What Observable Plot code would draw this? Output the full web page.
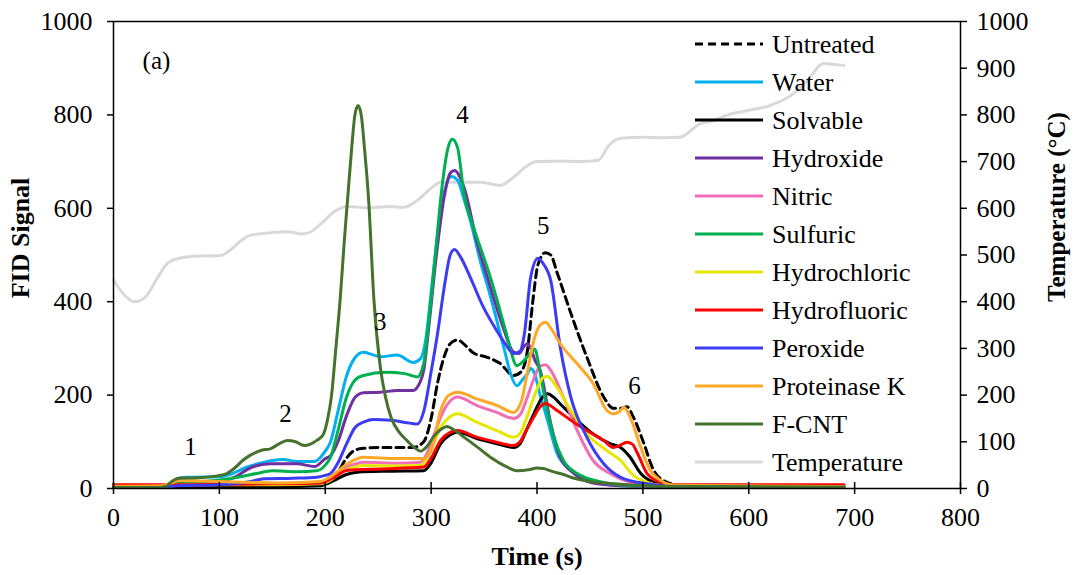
<!DOCTYPE html>
<html><head><meta charset="utf-8">
<script src="https://cdn.jsdelivr.net/npm/d3@7"></script>
<script src="https://cdn.jsdelivr.net/npm/@observablehq/plot@0.6"></script>
<style>
body{margin:0;background:#fff;}
#wrap{width:1074px;height:575px;}
</style></head><body><div id="wrap"></div>
<script>
// ---- data: [time (s), FID signal] ----
const untreated = [[0,3],[50,3],[100,4],[150,5],[195,8],[205,15],[212,35],[220,65],[228,82],[236,86],[252,88],[283,88],[293,100],[300,150],[306,225],[312,280],[318,310],[325,318],[333,305],[340,290],[353,281],[365,268],[378,242],[385,250],[391,296],[396,400],[401,480],[408,505],[413,500],[419,462],[432,375],[447,282],[463,196],[472,172],[480,172],[485,175],[491,153],[501,96],[510,40],[523,13],[540,5],[690,4]];
const water = [[0,5],[40,5],[55,12],[62,22],[70,24],[100,25],[110,30],[125,45],[140,55],[150,60],[160,62],[173,58],[190,58],[200,80],[205,100],[212,165],[220,240],[228,280],[236,292],[252,282],[268,286],[283,270],[290,278],[295,320],[300,420],[307,560],[313,640],[319,668],[325,660],[331,620],[337,574],[347,482],[355,420],[362,360],[370,290],[375,246],[381,220],[386,232],[391,246],[394,257],[397,250],[403,200],[410,146],[419,75],[432,39],[441,24],[460,10],[480,6],[690,4]];
const solvable = [[0,2],[50,2],[100,3],[150,4],[195,6],[208,17],[220,30],[230,35],[260,37],[293,38],[300,55],[309,96],[318,115],[325,121],[343,107],[362,96],[378,88],[384,96],[390,125],[397,160],[405,195],[410,203],[416,195],[422,181],[438,146],[453,117],[469,96],[479,88],[488,67],[498,32],[510,13],[525,5],[690,3]];
const hydroxide = [[0,3],[50,4],[60,12],[100,15],[115,25],[130,45],[148,53],[173,53],[190,47],[200,64],[205,70],[212,100],[220,155],[228,195],[236,205],[252,206],[268,210],[283,210],[289,225],[293,253],[298,350],[305,500],[312,620],[318,675],[322,681],[331,645],[343,531],[356,431],[368,345],[378,292],[383,289],[388,305],[391,310],[394,300],[398,275],[403,253],[413,139],[422,67],[435,32],[457,10],[490,5],[690,4]];
const nitric = [[0,5],[50,5],[60,8],[100,10],[150,10],[195,12],[205,22],[215,40],[228,52],[236,56],[268,54],[290,56],[295,70],[302,110],[309,153],[317,185],[325,196],[343,178],[362,163],[378,150],[384,158],[390,190],[397,235],[403,262],[408,265],[413,253],[425,195],[438,124],[453,60],[469,32],[488,13],[510,6],[690,4]];
const sulfuric = [[0,4],[50,5],[60,10],[100,18],[120,25],[135,32],[150,38],[173,36],[192,38],[200,50],[205,67],[212,124],[220,195],[228,232],[236,242],[258,249],[275,246],[287,239],[293,268],[298,360],[304,500],[310,640],[316,730],[320,748],[325,730],[331,631],[340,560],[356,452],[364,390],[372,324],[381,263],[388,275],[394,290],[398,298],[402,260],[406,210],[416,110],[425,60],[438,32],[463,13],[490,6],[690,4]];
const hydrochloric = [[0,4],[50,4],[60,7],[100,8],[150,8],[195,10],[205,18],[215,35],[228,46],[236,49],[268,48],[290,49],[296,65],[303,100],[309,131],[317,152],[325,160],[343,142],[362,124],[378,110],[384,118],[390,150],[397,195],[406,238],[410,240],[416,226],[432,167],[447,117],[466,81],[479,60],[491,28],[504,13],[520,6],[690,4]];
const hydrofluoric = [[0,8],[40,8],[60,8],[100,9],[150,10],[195,12],[205,20],[221,39],[252,42],[293,46],[300,65],[309,103],[318,120],[325,124],[343,110],[362,99],[378,92],[384,100],[390,125],[397,153],[403,175],[408,182],[419,167],[432,146],[447,124],[463,103],[472,88],[478,92],[485,99],[490,95],[495,75],[504,32],[517,13],[530,8],[690,8]];
const peroxide = [[0,3],[50,3],[60,6],[100,8],[130,15],[142,21],[170,22],[192,24],[200,28],[205,32],[212,55],[220,95],[228,130],[236,142],[245,148],[262,146],[280,140],[287,138],[293,165],[300,250],[306,331],[313,440],[318,500],[322,512],[328,495],[337,452],[349,390],[362,338],[370,310],[378,289],[384,294],[388,330],[394,452],[401,493],[406,481],[413,445],[422,302],[432,195],[447,110],[463,53],[479,24],[504,10],[530,5],[690,4]];
const proteinaseK = [[0,5],[45,6],[55,12],[62,17],[80,16],[100,15],[130,13],[160,12],[195,15],[205,25],[221,53],[236,67],[268,64],[293,64],[300,81],[309,167],[317,200],[325,206],[343,192],[362,178],[378,163],[385,185],[391,250],[397,317],[403,350],[408,356],[414,340],[422,310],[438,267],[453,225],[466,167],[472,160],[478,165],[482,174],[488,153],[498,88],[507,39],[517,17],[530,7],[690,4]];
const fcnt = [[0,2],[40,2],[50,5],[55,15],[62,22],[80,23],[98,27],[107,32],[115,45],[122,60],[129,71],[140,82],[148,85],[156,95],[164,103],[172,100],[180,92],[186,95],[192,103],[198,115],[202,146],[206,200],[210,300],[214,403],[218,530],[221,617],[225,730],[228,800],[231,820],[234,800],[237,730],[241,617],[246,403],[252,260],[257,195],[262,153],[270,120],[277,103],[284,88],[290,80],[296,90],[302,110],[310,128],[315,133],[320,128],[331,110],[344,88],[356,67],[370,48],[381,38],[392,40],[400,44],[406,43],[415,36],[425,30],[432,24],[450,15],[479,9],[517,5],[690,3]];
// [time (s), temperature (°C)]
const temperature = [[0,447],[10,415],[20,400],[30,410],[40,445],[50,480],[60,492],[80,498],[101,499],[110,510],[120,530],[129,542],[150,548],[165,550],[177,545],[185,548],[195,565],[210,595],[221,604],[240,601],[260,604],[274,602],[287,617],[300,643],[309,656],[330,656],[347,656],[365,649],[378,667],[390,690],[400,700],[420,701],[440,700],[458,703],[468,735],[479,750],[500,752],[520,751],[535,752],[554,781],[567,788],[580,800],[598,809],[620,820],[642,845],[655,873],[671,910],[680,908],[690,906]];

const seriesNames = ["Untreated","Water","Solvable","Hydroxide","Nitric","Sulfuric","Hydrochloric","Hydrofluoric","Peroxide","Proteinase K","F-CNT"];
const seriesData = [untreated, water, solvable, hydroxide, nitric, sulfuric, hydrochloric, hydrofluoric, peroxide, proteinaseK, fcnt];
const seriesColors = ["#000000","#00b0f0","#000000","#7030a0","#f26db5","#00b050","#e6e600","#ff0000","#3c3cf5","#ffa726","#45722d"];
const tempName = "Temperature";
const tempColor = "#d9d9d9";

const peakLabels = ["1","2","3","4","5","6"];
const peakTime = [72.7, 162.4, 252, 329.6, 406, 492];
const peakSignal = [88, 160, 356, 800, 563, 220];
const panelLabel = "(a)";
const panelTime = 40.6, panelSignal = 916;

const xTicks = [0,100,200,300,400,500,600,700,800];
const yTicksLeft = [0,200,400,600,800,1000];
const yTicksRight = [0,100,200,300,400,500,600,700,800,900,1000];

const FONT = "Liberation Serif";
const TICKFONT = 26;

const marks = [
  Plot.line(temperature, {x: d => d[0], y: d => d[1], stroke: tempColor, strokeWidth: 3, curve: "monotone-x"})
];
seriesData.forEach((data, i) => {
  marks.push(Plot.line(data, {
    x: d => d[0], y: d => d[1], stroke: seriesColors[i], strokeWidth: 3, curve: "monotone-x",
    strokeDasharray: seriesNames[i] === "Untreated" ? "8,5" : null
  }));
});
marks.push(
  Plot.text(peakLabels, {x: (d, i) => peakTime[i], y: (d, i) => peakSignal[i], text: d => d, fontSize: 25, fontFamily: FONT}),
  Plot.text([panelLabel], {x: () => panelTime, y: () => panelSignal, text: d => d, fontSize: 25, fontFamily: FONT}),
  Plot.axisX({ticks: xTicks, tickSize: 6, tickPadding: 13, strokeWidth: 1.5, tickFormat: d => String(d), fontSize: TICKFONT, fontFamily: FONT}),
  Plot.axisX({ticks: xTicks, tickSize: -6, text: null, strokeWidth: 1.5}),
  Plot.axisY({ticks: yTicksLeft, anchor: "left", tickSize: 6, tickPadding: 15, strokeWidth: 1.5, tickFormat: d => String(d), fontSize: TICKFONT, fontFamily: FONT}),
  Plot.axisY({ticks: yTicksRight, anchor: "right", tickSize: 6, tickPadding: 10, strokeWidth: 1.5, tickFormat: d => String(d), fontSize: TICKFONT, fontFamily: FONT}),
  Plot.frame({stroke: "black", strokeWidth: 1.5})
);

const chart = Plot.plot({
  width: 1074, height: 575,
  marginLeft: 113, marginRight: 114, marginTop: 21, marginBottom: 87,
  x: {domain: [0, 800], label: null},
  y: {domain: [0, 1000], label: null},
  style: {fontFamily: FONT, fontSize: "24px", color: "black", background: "white"},
  marks
});

const svg = d3.select(chart);
// axis titles
svg.append("text").attr("x", 537).attr("y", 556).attr("dy", "0.35em").attr("text-anchor", "middle")
  .attr("font-family", FONT).attr("font-weight", "bold").attr("font-size", 26).attr("fill", "black").text("Time (s)");
svg.append("text").attr("transform", "translate(20,238) rotate(-90)").attr("dy", "0.35em").attr("text-anchor", "middle")
  .attr("font-family", FONT).attr("font-weight", "bold").attr("font-size", 26).attr("fill", "black").text("FID Signal");
svg.append("text").attr("transform", "translate(1056,207) rotate(-90)").attr("dy", "0.35em").attr("text-anchor", "middle")
  .attr("font-family", FONT).attr("font-weight", "bold").attr("font-size", 25).attr("fill", "black").text("Temperature (°C)");

// legend
const legendNames = [...seriesNames, tempName];
const legendColors = [...seriesColors, tempColor];
const lg = svg.append("g");
legendNames.forEach((name, i) => {
  const y = 44 + i * 38;
  lg.append("line").attr("x1", 695).attr("x2", 763).attr("y1", y).attr("y2", y)
    .attr("stroke", legendColors[i]).attr("stroke-width", 3)
    .attr("stroke-dasharray", name === "Untreated" ? "8,5" : null);
  lg.append("text").attr("x", 772).attr("y", y).attr("dy", "0.35em").attr("text-anchor", "start")
    .attr("font-family", FONT).attr("font-size", 26).attr("fill", "black").text(name);
});

document.getElementById("wrap").appendChild(chart);
</script></body></html>
